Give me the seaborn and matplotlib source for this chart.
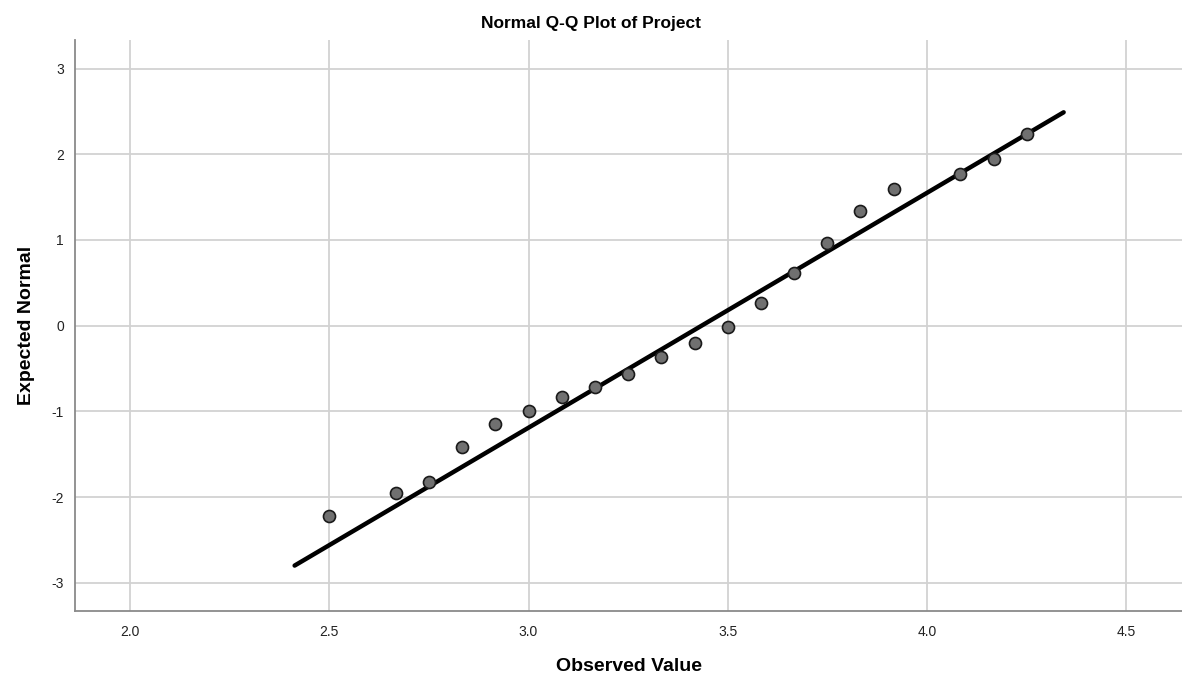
import numpy as np
import pandas as pd
import matplotlib
matplotlib.use('Agg')
import matplotlib.pyplot as plt
import seaborn as sns

observed = [2.500, 2.667, 2.750, 2.833, 2.917, 3.000, 3.083, 3.167, 3.250, 3.333,
            3.417, 3.500, 3.583, 3.667, 3.750, 3.833, 3.917, 4.083, 4.167, 4.250]
expected = [-2.22, -1.95, -1.82, -1.42, -1.15, -1.00, -0.83, -0.72, -0.56, -0.37,
            -0.20, -0.01, 0.27, 0.61, 0.97, 1.34, 1.60, 1.77, 1.95, 2.24]
line_x = [2.413, 4.343]
line_y = [-2.80, 2.49]
x_ticks = [2.0, 2.5, 3.0, 3.5, 4.0, 4.5]
y_ticks = [-3, -2, -1, 0, 1, 2, 3]

df = pd.DataFrame({'Observed Value': observed, 'Expected Normal': expected})
line_df = pd.DataFrame({'x': line_x, 'y': line_y})

sns.set_style('whitegrid')
plt.rcParams['font.family'] = ['Liberation Sans', 'DejaVu Sans']

fig = plt.figure(figsize=(11.82, 6.81), dpi=100)
ax = fig.add_axes([0.0635, 0.1028, 0.9365, 0.838])

sns.lineplot(x='x', y='y', data=line_df, color='black', linewidth=3.2, ax=ax, zorder=3)
sns.scatterplot(x='Observed Value', y='Expected Normal', data=df, color='#707070',
                edgecolor='#1a1a1a', linewidth=1.2, s=75, ax=ax, zorder=4)

ax.set_xlim(1.862, 4.64)
ax.set_ylim(-3.33, 3.33)
ax.set_xticks(x_ticks)
ax.set_xticklabels([f'{v:.1f}' for v in x_ticks])
ax.set_yticks(y_ticks)
ax.set_yticklabels([str(v) for v in y_ticks])
ax.tick_params(axis='both', length=0, labelsize=10, colors='#222222')
ax.tick_params(axis='x', pad=10)
ax.tick_params(axis='y', pad=8)

ax.grid(True, color='#d2d2d2', linewidth=1.3)
for side in ['top', 'right']:
    ax.spines[side].set_visible(False)
for side in ['left', 'bottom']:
    ax.spines[side].set_color('#8a8a8a')
    ax.spines[side].set_linewidth(1.3)

ax.set_xlabel('Observed Value', fontsize=14, fontweight='bold', labelpad=14, color='black')
ax.set_ylabel('Expected Normal', fontsize=14, fontweight='bold', labelpad=12, color='black')
fig.text(0.5, 0.965, 'Normal Q-Q Plot of Project', ha='center', va='center',
         fontsize=12.5, fontweight='bold', color='black')

fig.savefig('out.png', dpi=100)
